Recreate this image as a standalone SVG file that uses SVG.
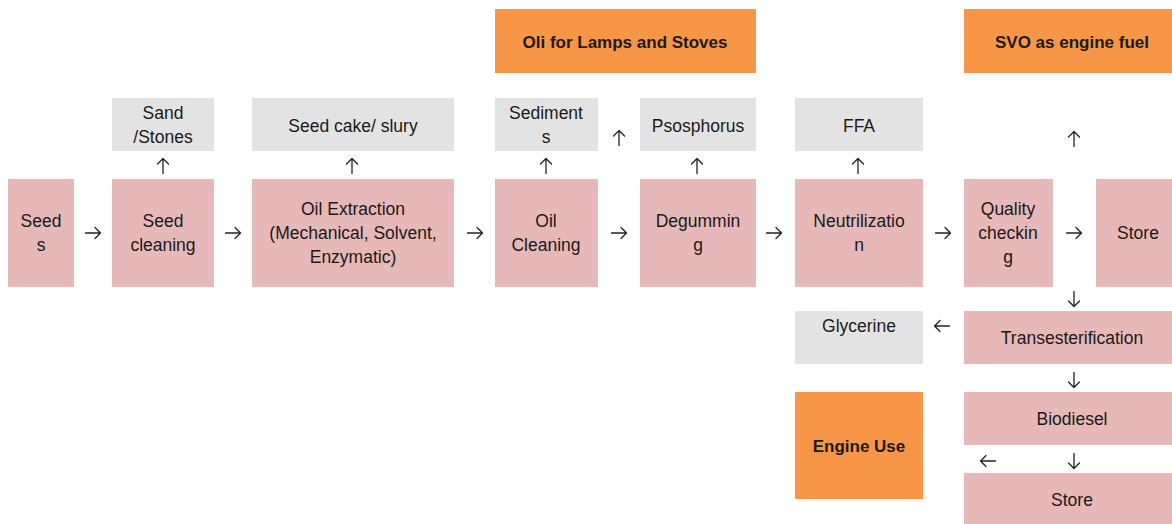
<svg xmlns="http://www.w3.org/2000/svg" xmlns:xlink="http://www.w3.org/1999/xlink" width="1172" height="524" viewBox="0 0 1172 524">
<style>
.p{fill:#e6b8b7}
.g{fill:#e3e3e3}
.o{fill:#f79646}
text{font-family:"Liberation Sans",Arial,sans-serif;font-size:17.5px;fill:#1a1a1a;text-anchor:middle}
.b{font-weight:bold;font-size:17px}
.a{fill:none;stroke:#222;stroke-width:1.3;stroke-linecap:round;stroke-linejoin:round}
</style>
<defs>
<path id="arr" class="a" d="M-7.5,0 H7.5 M2,-5.5 L7.5,0 L2,5.5"/>
</defs>
<rect width="1172" height="524" fill="#fff"/>
<g id="seeds"><rect class="p" x="8" y="179" width="66" height="108"/><text x="41" y="227">Seed</text><text x="41" y="251">s</text></g>
<g id="seed-cleaning"><rect class="p" x="112" y="179" width="102" height="108"/><text x="163" y="227">Seed</text><text x="163" y="251">cleaning</text></g>
<g id="sand-stones"><rect class="g" x="112" y="98" width="102" height="53"/><text x="163" y="119">Sand</text><text x="163" y="143">/Stones</text></g>
<g id="seed-cake"><rect class="g" x="252" y="98" width="202" height="53"/><text x="353" y="132">Seed cake/ slury</text></g>
<g id="oil-extraction"><rect class="p" x="252" y="179" width="202" height="108"/><text x="353" y="215">Oil Extraction</text><text x="353" y="239">(Mechanical, Solvent,</text><text x="353" y="263">Enzymatic)</text></g>
<g id="oil-cleaning"><rect class="p" x="495" y="179" width="103" height="108"/><text x="546" y="227">Oil</text><text x="546" y="251">Cleaning</text></g>
<g id="sediments"><rect class="g" x="495" y="98" width="103" height="53"/><text x="546" y="119">Sediment</text><text x="546" y="143">s</text></g>
<g id="lamps"><rect class="o" x="495" y="9" width="261" height="64"/><text class="b" x="625" y="48">Oli for Lamps and Stoves</text></g>
<g id="phosphorus"><rect class="g" x="640" y="98" width="116" height="53"/><text x="698" y="132">Psosphorus</text></g>
<g id="degumming"><rect class="p" x="640" y="179" width="116" height="108"/><text x="698" y="227">Degummin</text><text x="698" y="251">g</text></g>
<g id="ffa"><rect class="g" x="795" y="98" width="128" height="53"/><text x="859" y="132">FFA</text></g>
<g id="neutrilization"><rect class="p" x="795" y="179" width="128" height="108"/><text x="859" y="227">Neutrilizatio</text><text x="859" y="251">n</text></g>
<g id="svo"><rect class="o" x="964" y="9" width="208" height="64"/><text class="b" x="1072" y="48">SVO as engine fuel</text></g>
<g id="quality"><rect class="p" x="964" y="179" width="89" height="108"/><text x="1008" y="215">Quality</text><text x="1008" y="239">checkin</text><text x="1008" y="263">g</text></g>
<g id="store1"><rect class="p" x="1096" y="179" width="76" height="108"/><text x="1138" y="239">Store</text></g>
<g id="transesterification"><rect class="p" x="964" y="311" width="208" height="53"/><text x="1072" y="344">Transesterification</text></g>
<g id="glycerine"><rect class="g" x="795" y="311" width="128" height="53"/><text x="859" y="332">Glycerine</text></g>
<g id="engine-use"><rect class="o" x="795" y="392" width="128" height="107"/><text class="b" x="859" y="452">Engine Use</text></g>
<g id="biodiesel"><rect class="p" x="964" y="392" width="208" height="53"/><text x="1072" y="425">Biodiesel</text></g>
<g id="store2"><rect class="p" x="964" y="473" width="208" height="51"/><text x="1072" y="506">Store</text></g>
<g id="connectors">
<use xlink:href="#arr" transform="translate(93,233)"/>
<use xlink:href="#arr" transform="translate(233,233)"/>
<use xlink:href="#arr" transform="translate(475,233)"/>
<use xlink:href="#arr" transform="translate(619,233)"/>
<use xlink:href="#arr" transform="translate(774,233)"/>
<use xlink:href="#arr" transform="translate(943,233)"/>
<use xlink:href="#arr" transform="translate(1074,233)"/>
<use xlink:href="#arr" transform="translate(163,166) rotate(-90)"/>
<use xlink:href="#arr" transform="translate(352,166) rotate(-90)"/>
<use xlink:href="#arr" transform="translate(546,166) rotate(-90)"/>
<use xlink:href="#arr" transform="translate(619,138) rotate(-90)"/>
<use xlink:href="#arr" transform="translate(697,166) rotate(-90)"/>
<use xlink:href="#arr" transform="translate(858,166) rotate(-90)"/>
<use xlink:href="#arr" transform="translate(1074,139) rotate(-90)"/>
<use xlink:href="#arr" transform="translate(1074,299) rotate(90)"/>
<use xlink:href="#arr" transform="translate(1074,380) rotate(90)"/>
<use xlink:href="#arr" transform="translate(1074,461) rotate(90)"/>
<use xlink:href="#arr" transform="translate(942,326) rotate(180)"/>
<use xlink:href="#arr" transform="translate(988,461) rotate(180)"/>
</g>
</svg>
